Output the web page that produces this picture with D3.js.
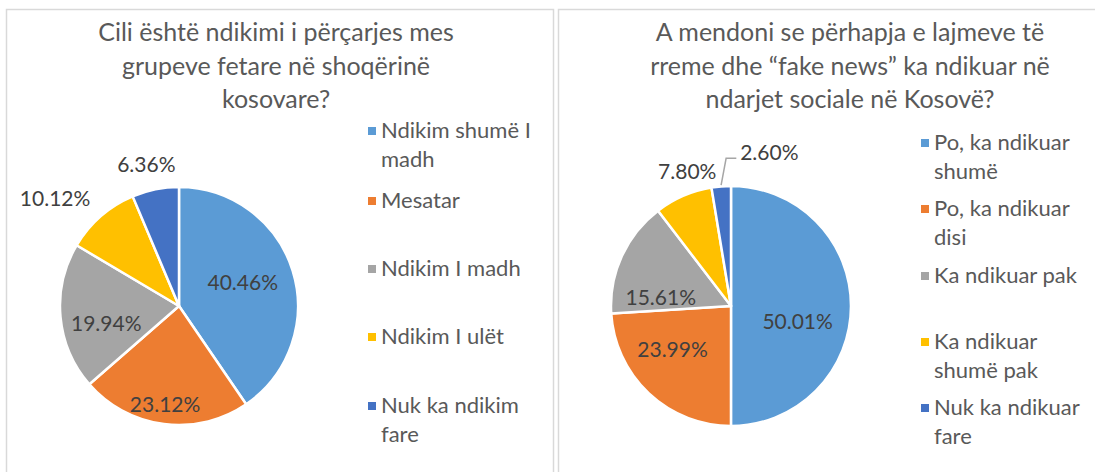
<!DOCTYPE html>
<html>
<head>
<meta charset="utf-8">
<script src="https://cdn.jsdelivr.net/npm/d3@7"></script>
<style>
  body { margin: 0; background: #fff; }
  svg text { font-family: Lato, "Open Sans", sans-serif; }
</style>
</head>
<body>
<div class="canvas"></div>
<script>
// chart data
const colors = ["#5B9BD5", "#ED7D31", "#A5A5A5", "#FFC000", "#4472C4"];

const leftTitle = ["Cili është ndikimi i përçarjes mes", "grupeve fetare në shoqërinë", "kosovare?"];
const leftCategories = [["Ndikim shumë I", "madh"], ["Mesatar"], ["Ndikim I madh"], ["Ndikim I ulët"], ["Nuk ka ndikim", "fare"]];
const leftValues = [40.46, 23.12, 19.94, 10.12, 6.36];

const rightTitle = ["A mendoni se përhapja e lajmeve të", "rreme dhe “fake news” ka ndikuar në", "ndarjet sociale në Kosovë?"];
const rightCategories = [["Po, ka ndikuar", "shumë"], ["Po, ka ndikuar", "disi"], ["Ka ndikuar pak"], ["Ka ndikuar", "shumë pak"], ["Nuk ka ndikuar", "fare"]];
const rightValues = [50.01, 23.99, 15.61, 7.80, 2.60];

// label placement (angle in degrees, radius factor) - mimics Excel best fit
const leftLabelPos = [[70, 0.57], [188, 0.84], [256, 0.63], [311, 1.38], [347, 1.22]];
const rightLabelPos = [[103, 0.57], [233, 0.61], [277, 0.59], [342, 1.18], [14, 1.32]];

const svg = d3.select(".canvas").append("svg")
  .attr("width", 1095)
  .attr("height", 472);

function drawChart(opt) {
  const g = svg.append("g");

  // frame
  g.append("rect")
    .attr("x", opt.x0 + 0.5).attr("y", 9.5)
    .attr("width", opt.w).attr("height", 520)
    .attr("fill", "#fff")
    .attr("stroke", "#d9d9d9")
    .attr("stroke-width", 1.5);

  // title
  g.append("g").selectAll("text").data(opt.title).enter()
    .append("text")
    .attr("x", opt.titleX)
    .attr("y", (d, i) => 41 + i * 33.5)
    .attr("text-anchor", "middle")
    .attr("font-size", 25)
    .attr("fill", "#595959")
    .text(d => d);

  const pie = d3.pie().sort(null).value(d => d);
  const arcs = pie(opt.values);
  const arc = d3.arc().innerRadius(0).outerRadius(opt.r);

  const pg = g.append("g").attr("transform", `translate(${opt.cx}, ${opt.cy})`);
  pg.selectAll("path").data(arcs).enter()
    .append("path")
    .attr("d", arc)
    .attr("fill", (d, i) => colors[i])
    .attr("stroke", "#fff")
    .attr("stroke-width", 2.5)
    .attr("stroke-linejoin", "round");

  // data labels
  const pos = (i) => {
    const a = opt.labelPos[i][0] * Math.PI / 180;
    const rr = opt.labelPos[i][1] * opt.r;
    return [Math.sin(a) * rr, -Math.cos(a) * rr];
  };
  pg.selectAll("text.lbl").data(opt.values).enter()
    .append("text")
    .attr("class", "lbl")
    .attr("x", (d, i) => pos(i)[0])
    .attr("y", (d, i) => pos(i)[1])
    .attr("dy", "0.35em")
    .attr("text-anchor", "middle")
    .attr("font-size", 21)
    .attr("fill", "#404040")
    .text(d => d.toFixed(2) + "%");

  if (opt.leader) {
    const last = arcs[arcs.length - 1];
    const mid = (last.startAngle + last.endAngle) / 2;
    const p0 = [Math.sin(mid) * opt.r * 1.01, -Math.cos(mid) * opt.r * 1.01];
    const lp = pos(arcs.length - 1);
    pg.append("path")
      .attr("d", `M${p0[0]},${p0[1]} L${p0[0] + 5},${lp[1] + 6} L${lp[0] - 33},${lp[1] + 6}`)
      .attr("fill", "none")
      .attr("stroke", "#a6a6a6")
      .attr("stroke-width", 1.5);
  }

  // legend
  const lg = g.append("g").attr("transform", `translate(${opt.legX}, 0)`);
  const item = lg.selectAll("g").data(opt.categories).enter()
    .append("g")
    .attr("transform", (d, i) => `translate(0, ${opt.legY[i]})`);
  item.append("rect")
    .attr("x", 0).attr("y", -11)
    .attr("width", 8).attr("height", 8)
    .attr("fill", (d, i) => colors[i]);
  item.selectAll("text").data(d => d).enter()
    .append("text")
    .attr("x", 13)
    .attr("y", (d, j) => j * 28.5)
    .attr("font-size", 22)
    .attr("fill", "#595959")
    .text(d => d);
}

drawChart({
  x0: 6, w: 547, titleX: 276,
  title: leftTitle, values: leftValues, categories: leftCategories,
  cx: 179, cy: 306, r: 119,
  labelPos: leftLabelPos, leader: false,
  legX: 368, legY: [138, 208, 276, 344, 413]
});

drawChart({
  x0: 558, w: 560, titleX: 850,
  title: rightTitle, values: rightValues, categories: rightCategories,
  cx: 731, cy: 306, r: 120,
  labelPos: rightLabelPos, leader: true,
  legX: 921, legY: [150, 216, 283, 349, 415]
});
</script>
</body>
</html>
